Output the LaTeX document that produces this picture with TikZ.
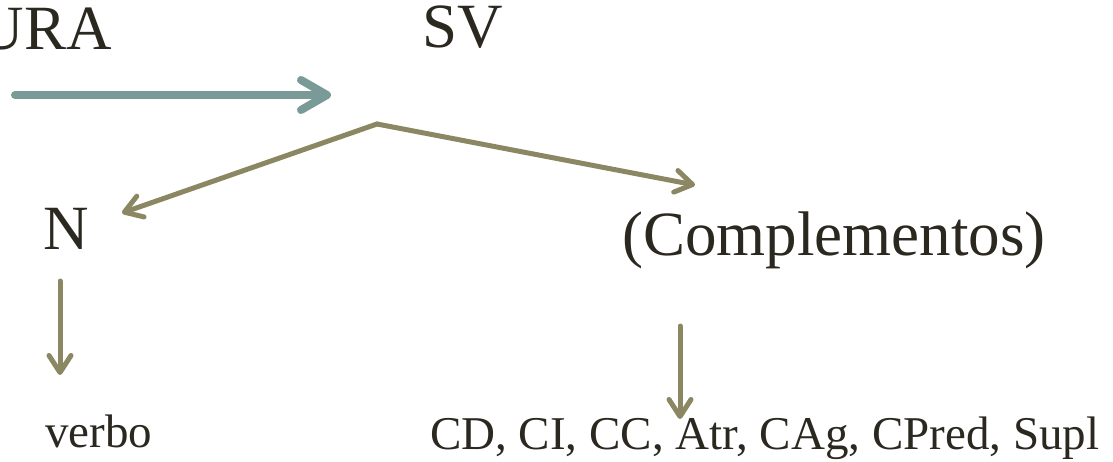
\documentclass[tikz,border=0pt]{standalone}
\usepackage{fontspec}
\setmainfont{Liberation Serif}
\usetikzlibrary{arrows.meta}
\definecolor{txt}{HTML}{2B2820}
\definecolor{teal}{HTML}{7A9A98}
\definecolor{olive}{HTML}{8B8762}
\tikzset{
  big/.style={font=\fontsize{63}{70}\selectfont, text=txt, inner sep=0pt},
  small/.style={font=\fontsize{47}{54}\selectfont, text=txt, inner sep=0pt},
  tealarrow/.style={draw=teal, line width=8pt, line cap=round,
    -{Straight Barb[length=26pt,width=30pt,line cap=round,line join=round]}},
  olivearrow/.style={draw=olive, line width=5pt, line cap=round,
    -{Straight Barb[length=17pt,width=22pt,line cap=round,line join=round]}}
}
\begin{document}
\begin{tikzpicture}[x=1pt,y=-1pt]
\useasboundingbox (0,0) rectangle (1113,462);
\node[big, anchor=base east] (ura) at (112,50) {URA};
\node[big, anchor=base] (sv) at (463,48) {SV};
\node[big, anchor=base west] (n) at (43,250) {N};
\node[big, anchor=base west] (comp) at (622,255) {(Complementos)};
\node[small, anchor=base west] (verbo) at (45,447) {verbo};
\node[small, anchor=base west] (compl) at (430,449) {CD, CI, CC, Atr, CAg, CPred, Supl};
% connector points
\coordinate (ts) at (15,95);
\coordinate (te) at (331,95);
\coordinate (apex) at (377,124);
\coordinate (lt) at (122,213);
\coordinate (rt) at (695,185);
\coordinate (ns) at (60,281);
\coordinate (ne) at (60,375);
\coordinate (cs) at (680,326);
\coordinate (ce) at (680,419);
\draw[tealarrow] (ts) -- (te);
\draw[olivearrow] (apex) -- (lt);
\draw[olivearrow] (apex) -- (rt);
\draw[olivearrow] (ns) -- (ne);
\draw[olivearrow] (cs) -- (ce);
\end{tikzpicture}
\end{document}
